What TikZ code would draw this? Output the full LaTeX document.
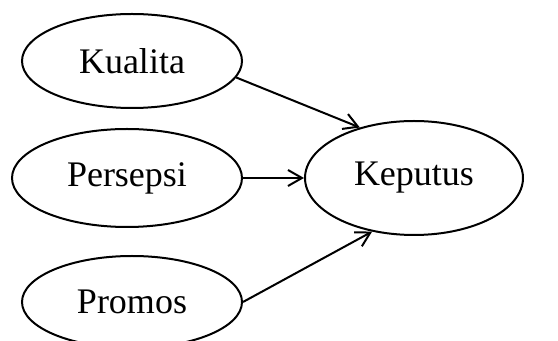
\documentclass[tikz,border=0pt]{standalone}
\usepackage{fontspec}
\setmainfont{Liberation Serif}
\usepackage{tikz}
\usetikzlibrary{positioning,shapes.geometric,arrows.meta}

\begin{document}
\begin{tikzpicture}[auto,
    every node/.style={on grid},
    var/.style={ellipse,draw,line width=1pt,inner sep=0pt,
      font=\fontsize{18}{20}\selectfont},
    every path/.style={line width=1pt},
    >={Straight Barb[length=7pt,width=8pt]}]
    \useasboundingbox (0,0) rectangle (279pt,-170.5pt);
    \node[var,minimum width=115pt,minimum height=49pt] (P) at (63.5pt,-89pt) {Persepsi};
    \node[var,minimum width=110pt,minimum height=47pt,above=58.5pt of P,xshift=2.5pt] (K) {Kualita};
    \node[var,minimum width=110pt,minimum height=46pt,below=62pt of P,xshift=2.5pt] (Pr) {Promos};
    \node[var,minimum width=109pt,minimum height=57pt,right=143.5pt of P] (KP) {Keputus};
    \draw[->] (K.-9) -- (KP.137);
    \draw[->] (P) -- (KP);
    \draw[->] (Pr.east) -- (KP.232);
  \end{tikzpicture}
\end{document}
